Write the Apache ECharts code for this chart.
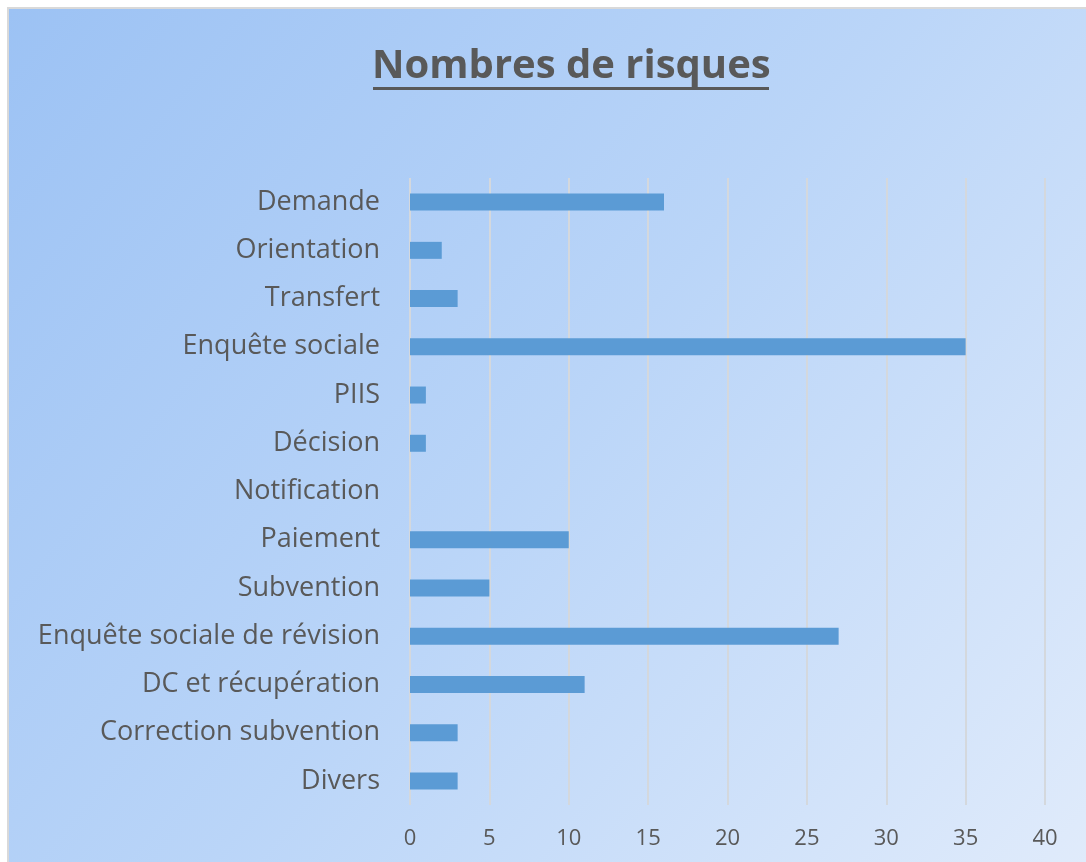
<!DOCTYPE html>
<html>
<head>
<meta charset="utf-8">
<script src="https://cdn.jsdelivr.net/npm/echarts@6/dist/echarts.min.js"></script>
<style>
  html, body { margin: 0; padding: 0; background: #fff; }
  #wrap { position: relative; width: 1086px; height: 862px; overflow: hidden; }
  #chart {
    position: absolute; left: 7px; top: 7px; width: 1079px; height: 855px;
    border-left: 2px solid #d9d9d9; border-top: 2px solid #d9d9d9;
  }
</style>
</head>
<body>
<div id="wrap"><div id="chart"></div></div>
<script>
const categories = [
  'Demande', 'Orientation', 'Transfert', 'Enquête sociale', 'PIIS', 'Décision',
  'Notification', 'Paiement', 'Subvention', 'Enquête sociale de révision',
  'DC et récupération', 'Correction subvention', 'Divers'
];
const risques = [16, 2, 3, 35, 1, 1, 0, 10, 5, 27, 11, 3, 3];
const axisMin = 0, axisMax = 40, axisStep = 5;

const chart = echarts.init(document.getElementById('chart'));

const textGrey = '#595959';

chart.setOption({
  backgroundColor: {
    type: 'linear', x: 0, y: 0, x2: 1, y2: 1,
    colorStops: [
      { offset: 0, color: '#9cc2f4' },
      { offset: 0.5, color: '#bad5f8' },
      { offset: 1, color: '#e0ebfb' }
    ]
  },
  title: {
    text: 'Nombres de risques',
    left: 358, top: 33,
    textStyle: { color: textGrey, fontFamily: 'Open Sans', fontWeight: 'bold', fontSize: 40 }
  },
  // underline under the title
  graphic: [{
    type: 'rect',
    shape: { x: 364, y: 78, width: 396, height: 3 },
    style: { fill: textGrey }
  }],
  grid: { left: 401, top: 169, width: 635, height: 627, containLabel: false },
  xAxis: {
    type: 'value', min: axisMin, max: axisMax, interval: axisStep,
    axisLine: { show: false },
    axisTick: { show: false },
    splitLine: { show: true, lineStyle: { color: '#d4d8dd', width: 2 } },
    axisLabel: { color: textGrey, fontFamily: 'Open Sans', fontSize: 22, margin: 23 }
  },
  yAxis: {
    type: 'category', data: categories, inverse: true,
    axisLine: { show: false },
    axisTick: { show: false },
    axisLabel: { color: textGrey, fontFamily: 'Open Sans', fontSize: 27, margin: 30, padding: [4, 0, 0, 0] }
  },
  series: [{
    type: 'bar', data: risques, barWidth: 17,
    itemStyle: { color: '#5b9bd5' },
    silent: true
  }],
  animation: false
});
</script>
</body>
</html>
